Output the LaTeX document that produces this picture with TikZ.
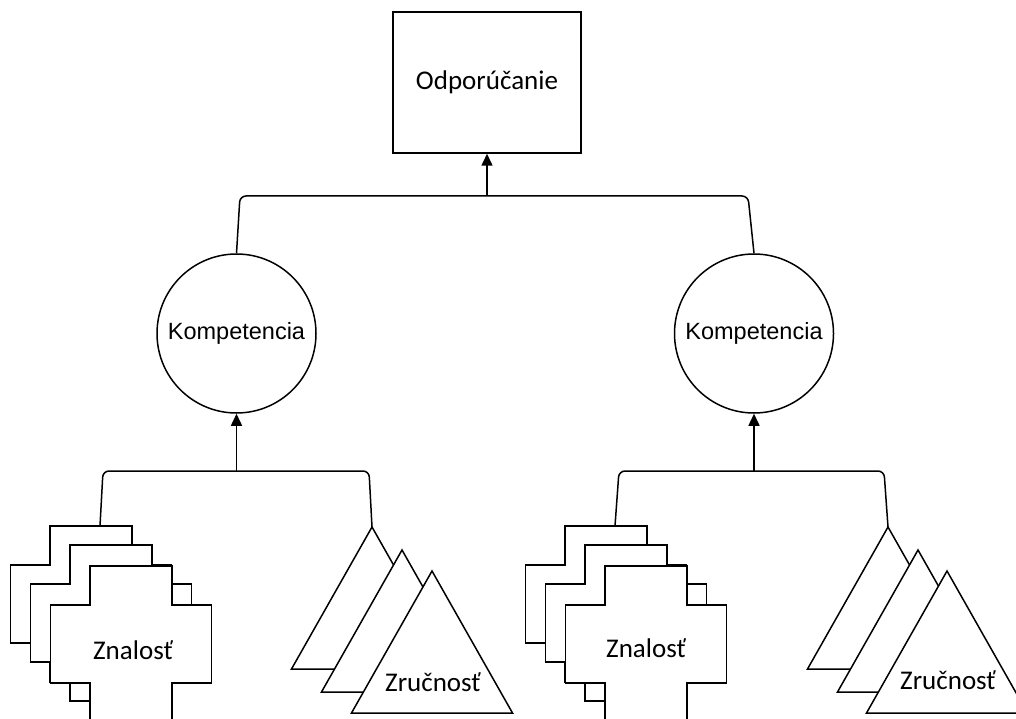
\documentclass[tikz,border=0pt]{standalone}
\usepackage{fontspec}
\setmainfont{Carlito}
\newfontfamily\arialfont{Liberation Sans}
\usepackage{tikz}
\usetikzlibrary{positioning, arrows.meta}

\begin{document}
\begin{tikzpicture}[x=1pt, y=-1pt, line width=1.5pt,
  box node/.style={rectangle,draw,minimum width=188pt,minimum height=141pt,
    font=\fontsize{27}{32}\selectfont},
  comp node/.style={circle,draw,inner sep=0pt,minimum size=159pt,
    font=\arialfont\fontsize{23.5}{28}\selectfont},
  label node/.style={font=\fontsize{27}{32}\selectfont},
  arr/.style={-{Triangle[length=12pt,width=11pt]}},
  znalost/.pic={
    \draw[fill=white] (-41,-78) -- (41,-78) -- (41,-39) -- (80.5,-39) -- (80.5,39)
      -- (41,39) -- (41,78) -- (-41,78) -- (-41,39) -- (-80.5,39) -- (-80.5,-39)
      -- (-41,-39) -- cycle;
    \coordinate (-in) at (9,-78);
  },
  zrucnost/.pic={
    \draw[fill=white] (-80.5,71) -- (0,-71) -- (80.5,71) -- cycle;
    \coordinate (-in) at (0,-71);
  }]

\clip (0,0) rectangle (1016,719);

\node[box node] (O) at (487,82.5) {Odporúčanie};
\node[comp node] (K1) at (236.5,333.5) {Kompetencia};
\node[comp node] (K2) [right=357pt of K1] {Kompetencia};

% left group
\pic (zn1a) at (91,604) {znalost};
\pic (zn1b) at (111,623) {znalost};
\pic (zn1c) at (131,644) {znalost};
\node[label node] (Z1) at (133,650) {Znalosť};

\pic (zr1a) at (372,598) {zrucnost};
\pic (zr1b) at (402,621) {zrucnost};
\pic (zr1c) at (432,642) {zrucnost};
\node[label node] (R1) at (433,682) {Zručnosť};

% right group
\pic (zn2a) at (606,604) {znalost};
\pic (zn2b) at (626,623) {znalost};
\pic (zn2c) at (646,644) {znalost};
\node[label node] (Z2) at (646,648) {Znalosť};

\pic (zr2a) at (888,598) {zrucnost};
\pic (zr2b) at (918,621) {zrucnost};
\pic (zr2c) at (947,642) {zrucnost};
\node[label node] (R2) at (948,680) {Zručnosť};

% connectors
\coordinate (top bus) at (O.south |- 0,196);
\coordinate (bus1) at (K1.south |- 0,471);
\coordinate (bus2) at (K2.south |- 0,471);

\draw[rounded corners=6pt] (K1.north) -- (240,196) -- (748,196) -- (K2.north);
\draw[arr] (top bus) -- (O.south);

\draw[rounded corners=6pt] (zn1a-in) -- (103,471) -- (369,471) -- (zr1a-in);
\draw[arr] (bus1) -- (K1.south);

\draw[rounded corners=6pt] (zn2a-in) -- (619,471) -- (884,471) -- (zr2a-in);
\draw[arr] (bus2) -- (K2.south);

\end{tikzpicture}
\end{document}
